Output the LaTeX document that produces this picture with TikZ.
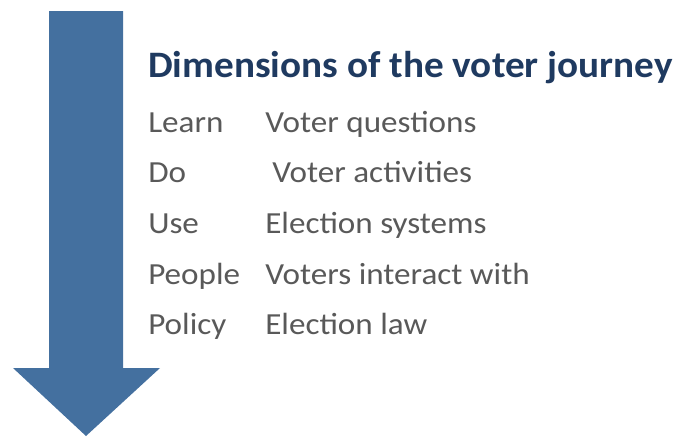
\documentclass[tikz,border=0pt]{standalone}
\usepackage{fontspec}
\setmainfont{Carlito}
\newfontfamily\titlefont[FakeStretch=1.05]{Carlito}
\newfontfamily\rowfont[FakeStretch=1.08]{Carlito}
\usetikzlibrary{positioning}
\definecolor{arrowblue}{HTML}{44709F}
\definecolor{titlenavy}{HTML}{1F3A60}
\definecolor{rowgrey}{HTML}{595959}
\tikzset{
  titletext/.style={anchor=base west, inner sep=0pt, text=titlenavy, font=\titlefont\fontsize{28}{32}\selectfont\bfseries},
  rowtext/.style={anchor=base west, inner sep=0pt, text=rowgrey, font=\rowfont\fontsize{23}{27}\selectfont}
}
\begin{document}
\begin{tikzpicture}[x=0.75pt, y=-0.75pt]
        \useasboundingbox (0,0) rectangle (680,436);
        % the arrow
        \fill[arrowblue] (49,11) -- (123,11) -- (123,368) -- (160,368) -- (86,436)
            -- (13,368) -- (49,368) -- cycle;
        \node[titletext] (title) at (148,77) {Dimensions of the voter journey};
        \node[rowtext] (learn) at (148,132) {Learn};
        \node[rowtext] (do) at (148,182) {Do};
        \node[rowtext] (use) at (148,233) {Use};
        \node[rowtext] (people) at (148,284) {People};
        \node[rowtext] (policy) at (148,334) {Policy};
        \node[rowtext] (questions) at (265,132) {Voter questions};
        \node[rowtext] (activities) at (272,182) {Voter activities};
        \node[rowtext] (systems) at (265,233) {Election systems};
        \node[rowtext] (interact) at (265,284) {Voters interact with};
        \node[rowtext] (law) at (265,334) {Election law};
    \end{tikzpicture}
\end{document}
